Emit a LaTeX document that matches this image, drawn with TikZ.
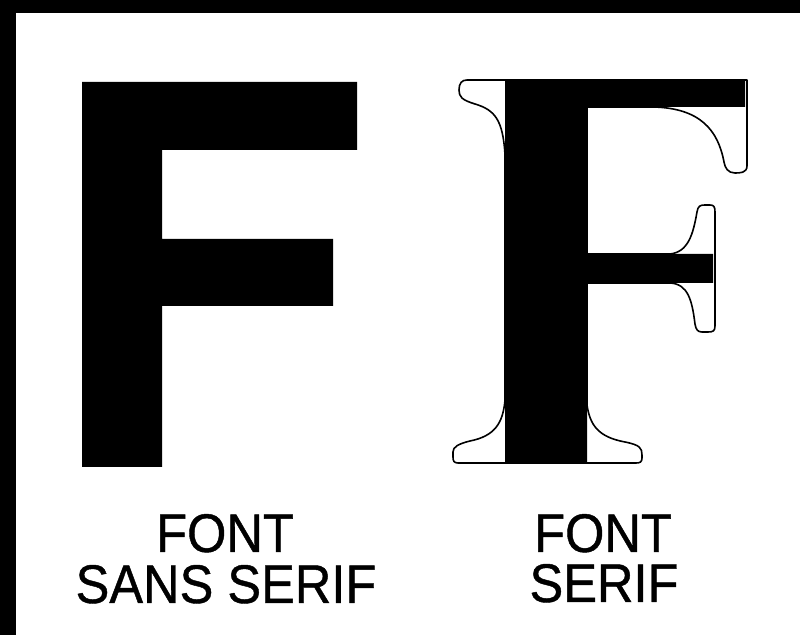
\documentclass[tikz,border=0pt]{standalone}
\usepackage{fontspec}
\newfontfamily\labelfont[FakeStretch=0.93, FakeBold=0.8]{Liberation Sans}
\begin{document}
\begin{tikzpicture}[x=0.5pt, y=-0.5pt,
  letter/.style={fill=black},
  serifline/.style={draw=black, line width=0.8pt, fill=white, line join=round},
  caption/.style={font=\labelfont\fontsize{27.2}{30}\selectfont, inner sep=0pt, anchor=base}]

  \useasboundingbox (0,0) rectangle (800,635);
  \fill[white] (0,0) rectangle (800,635);
  % frame
  \fill[black] (0,0) rectangle (800,13);
  \fill[black] (0,0) rectangle (16,635);

  % sans serif F
  \fill[letter] (82,82) -- (357,82) -- (357,150) -- (162,150) -- (162,239) -- (333,239)
    -- (333,306) -- (162,306) -- (162,467) -- (82,467) -- cycle;

  % serif F outline
  \path[serifline] (467,80) -- (747,80) -- (747,166)
    .. controls (747,173) and (740,173) .. (735,173)
    .. controls (728,173) and (725,168) .. (724,162)
    .. controls (718,130) and (700,108) .. (653,107) -- (587,107) -- (587,254) -- (670,254)
    .. controls (688,252) and (693,235) .. (697,212)
    .. controls (698,206) and (700,205) .. (705,205) -- (710,205)
    .. controls (714,205) and (715,207) .. (715,212) -- (715,326)
    .. controls (715,331) and (713,332) .. (708,332) -- (702,332)
    .. controls (698,332) and (696,330) .. (695,324)
    .. controls (692,300) and (688,284) .. (670,283) -- (587,283) -- (587,405)
    .. controls (590,425) and (598,437) .. (625,442)
    .. controls (640,445) and (642,448) .. (642,455) -- (642,458)
    .. controls (642,462) and (640,463) .. (636,463) -- (458,463)
    .. controls (454,463) and (453,461) .. (453,457) -- (453,452)
    .. controls (453,447) and (458,444) .. (470,441)
    .. controls (495,436) and (503,423) .. (505,400) -- (505,155)
    .. controls (503,120) and (495,110) .. (475,104)
    .. controls (462,100) and (459,97) .. (459,90)
    .. controls (459,83) and (462,80) .. (467,80) -- cycle;
  % serif F body
  \fill[letter] (505,81) -- (745,81) -- (745,107) -- (587,107) -- (587,254) -- (713,254)
    -- (713,283) -- (587,283) -- (587,462) -- (505,462) -- cycle;

  % captions
  \node[caption] (sanstop) at (225,552) {FONT};
  \node[caption] (sansbot) at (226,603) {SANS SERIF};
  \node[caption] (seriftop) at (603,552) {FONT};
  \node[caption] (serifbot) at (604,602) {SERIF};
\end{tikzpicture}
\end{document}
